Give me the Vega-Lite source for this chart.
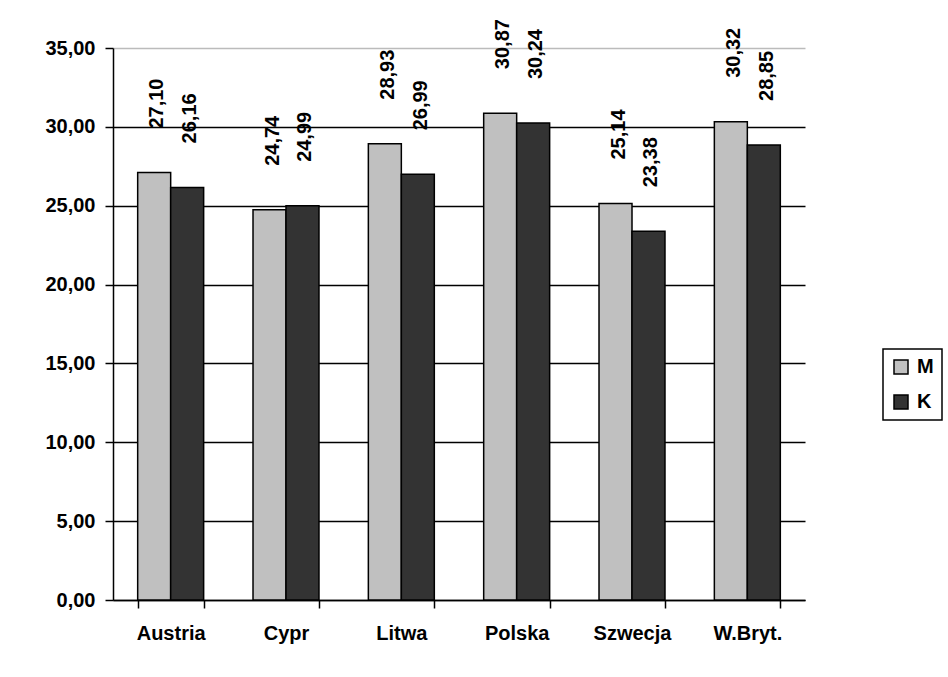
{
  "$schema": "https://vega.github.io/schema/vega-lite/v6.json",
  "width": 692,
  "height": 552,
  "autosize": {"type": "none"},
  "padding": {"left": 113, "top": 48, "right": 143, "bottom": 77},
  "background": "white",
  "config": {
    "locale": {"number": {"decimal": ",", "thousands": " ", "grouping": [3], "currency": ["", " zł"]}},
    "view": {"stroke": null},
    "font": "Liberation Sans",
    "legend": {
      "orient": "none",
      "legendX": 770,
      "legendY": 301,
      "strokeColor": "black",
      "strokeWidth": 1.5,
      "padding": 8,
      "symbolType": "square",
      "symbolSize": 196,
      "symbolStrokeColor": "black",
      "symbolStrokeWidth": 1.5,
      "symbolOpacity": 1,
      "labelFontSize": 20,
      "labelFontWeight": "bold",
      "labelColor": "black",
      "labelOffset": 6,
      "rowPadding": 15
    }
  },
  "data": {
    "values": [
      {"kraj": "Austria", "plec": "M", "v": 27.10},
      {"kraj": "Austria", "plec": "K", "v": 26.16},
      {"kraj": "Cypr", "plec": "M", "v": 24.74},
      {"kraj": "Cypr", "plec": "K", "v": 24.99},
      {"kraj": "Litwa", "plec": "M", "v": 28.93},
      {"kraj": "Litwa", "plec": "K", "v": 26.99},
      {"kraj": "Polska", "plec": "M", "v": 30.87},
      {"kraj": "Polska", "plec": "K", "v": 30.24},
      {"kraj": "Szwecja", "plec": "M", "v": 25.14},
      {"kraj": "Szwecja", "plec": "K", "v": 23.38},
      {"kraj": "W.Bryt.", "plec": "M", "v": 30.32},
      {"kraj": "W.Bryt.", "plec": "K", "v": 28.85}
    ]
  },
  "encoding": {
    "x": {
      "field": "kraj",
      "type": "nominal",
      "sort": null,
      "scale": {"paddingInner": 0.428, "paddingOuter": 0.214},
      "axis": {
        "title": null,
        "grid": false,
        "domainColor": "black",
        "domainWidth": 1.5,
        "tickColor": "black",
        "tickWidth": 1.5,
        "tickSize": 8,
        "tickBand": "extent",
        "labelAngle": 0,
        "labelFontSize": 20,
        "labelFontWeight": "bold",
        "labelColor": "black",
        "labelPadding": 15
      }
    },
    "xOffset": {"field": "plec", "type": "nominal", "sort": ["M", "K"], "scale": {"paddingInner": 0, "paddingOuter": 0}},
    "y": {
      "field": "v",
      "type": "quantitative",
      "scale": {"domain": [0, 35], "nice": false},
      "axis": {
        "title": null,
        "values": [0, 5, 10, 15, 20, 25, 30, 35],
        "format": ".2f",
        "grid": true,
        "gridColor": {"condition": {"test": "datum.value === 35", "value": "#bbbbbb"}, "value": "black"},
        "gridWidth": 1.5,
        "domainColor": "black",
        "domainWidth": 1.5,
        "tickColor": "black",
        "tickWidth": 1.5,
        "tickSize": 8,
        "labelFontSize": 20,
        "labelFontWeight": "bold",
        "labelColor": "black",
        "labelPadding": 10
      }
    }
  },
  "layer": [
    {
      "mark": {"type": "bar", "stroke": "black", "strokeWidth": 1.5},
      "encoding": {
        "color": {
          "field": "plec",
          "type": "nominal",
          "sort": ["M", "K"],
          "scale": {"domain": ["M", "K"], "range": ["#c0c0c0", "#333333"]},
          "legend": {"title": null}
        }
      }
    },
    {
      "mark": {"type": "text", "angle": -90, "align": "left", "baseline": "middle", "dx": 44, "dy": 3, "fontSize": 20, "fontWeight": "bold", "color": "black"},
      "encoding": {"text": {"field": "v", "type": "quantitative", "format": ".2f"}}
    }
  ]
}
